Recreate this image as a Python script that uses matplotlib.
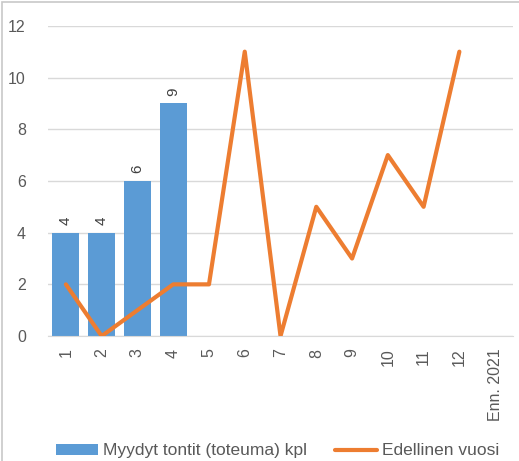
import numpy as np
import matplotlib.pyplot as plt
from matplotlib.patches import Rectangle

# kategoriat ja sarjat
categories = ['1', '2', '3', '4', '5', '6', '7', '8', '9', '10', '11', '12', 'Enn. 2021']
sold = [4, 4, 6, 9]                                   # Myydyt tontit (toteuma) kpl
previous = [2, 0, 1, 2, 2, 11, 0, 5, 3, 7, 5, 11]     # Edellinen vuosi

plt.rcParams['font.family'] = ['Liberation Sans', 'DejaVu Sans']

fig = plt.figure(figsize=(5.19, 4.61), dpi=100)
ax = fig.add_axes([0.0925, 0.271, 0.896, 0.673])

x = np.arange(len(categories))
bars = ax.bar(x[:len(sold)], sold, width=0.75, color='#5b9bd5', zorder=2,
              label='Myydyt tontit (toteuma) kpl')
for b, v in zip(bars, sold):
    ax.text(b.get_x() + b.get_width() / 2, v + 0.3, str(v), rotation=90,
            ha='center', va='bottom', fontsize=11, color='#404040')
line, = ax.plot(x[:len(previous)], previous, color='#ed7d31', lw=3, zorder=3,
                solid_capstyle='round', label='Edellinen vuosi')

ax.set_xlim(-0.5, len(categories) - 0.5)
ax.set_ylim(0, 12)
ax.set_yticks(range(0, 13, 2))
ax.set_xticks(x)
ax.set_xticklabels(categories, rotation=90)
ax.tick_params(axis='both', length=0, labelsize=11.5, labelcolor='#595959')
ax.tick_params(axis='x', pad=9)
ax.tick_params(axis='y', pad=16)
ax.grid(axis='y', color='#d9d9d9', lw=1, zorder=0)
for s in ['top', 'right', 'left']:
    ax.spines[s].set_visible(False)
ax.spines['bottom'].set_color('#d9d9d9')

fig.legend([bars, line], ['Myydyt tontit (toteuma) kpl', 'Edellinen vuosi'],
           loc='center', bbox_to_anchor=(0.535, 0.022), ncol=2, frameon=False,
           fontsize=12.5, labelcolor='#595959', handlelength=2.4, handleheight=0.6,
           columnspacing=1.6, handletextpad=0.3)

fig.patches.append(Rectangle((2 / 519, -0.1), 1.2, 1.1 - 2 / 461, transform=fig.transFigure,
                             fill=False, edgecolor='#c8c8c8', lw=1.2))

fig.savefig('out.png', dpi=100)
